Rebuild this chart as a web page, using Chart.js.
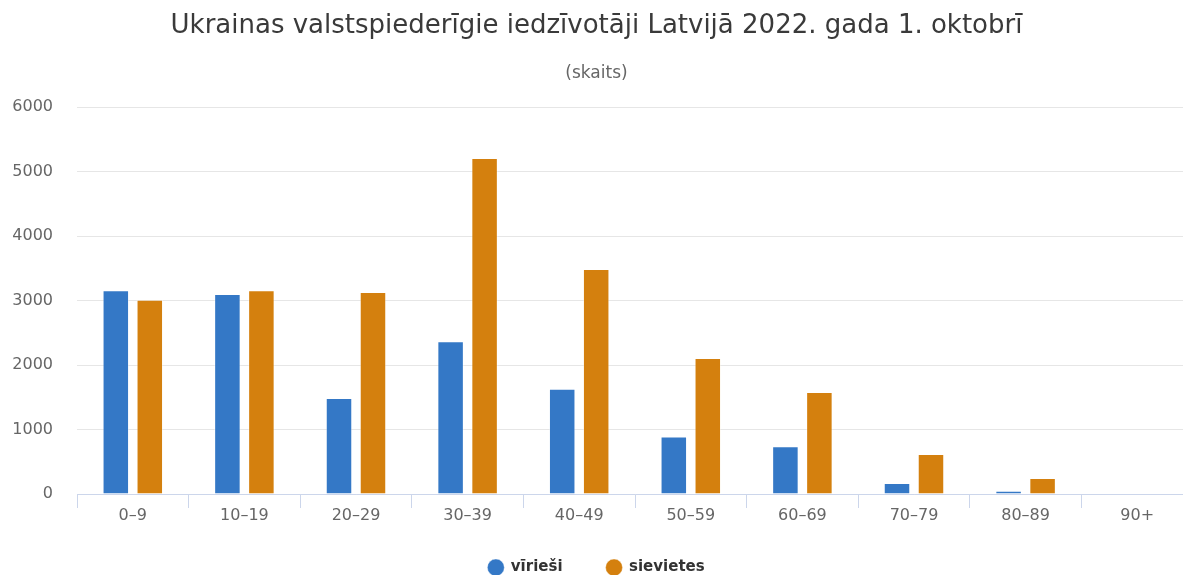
<!DOCTYPE html>
<html lang="lv">
<head>
<meta charset="utf-8">
<title>Ukrainas valstspiederīgie iedzīvotāji Latvijā</title>
<script src="https://cdn.jsdelivr.net/npm/chart.js@4/dist/chart.umd.min.js"></script>
<style>
  html, body { margin: 0; padding: 0; background: #fff; overflow: hidden; }
  #wrap { width: 1183px; height: 575px; overflow: hidden; }
  canvas { display: block; }
</style>
</head>
<body>
<div id="wrap">
  <canvas id="chart" width="1193" height="575"></canvas>
</div>
<script>
// vecuma grupas
const ageGroups = ['0–9', '10–19', '20–29', '30–39', '40–49', '50–59', '60–69', '70–79', '80–89', '90+'];
// skaits
const men = [3160, 3100, 1490, 2370, 1630, 890, 740, 170, 50, 0];
const women = [3010, 3160, 3130, 5210, 3490, 2110, 1580, 620, 250, 0];
const yTicks = [0, 1000, 2000, 3000, 4000, 5000, 6000];

const sans = '"DejaVu Sans", Verdana, sans-serif';
const tickFont = { family: sans, size: 16, lineHeight: 1 };

// legendu paceļ nedaudz augstāk, lai starp ierakstiem paliek plata atstarpe
const legendOffset = {
  id: 'legendOffset',
  afterLayout(chart) {
    chart.legend.top -= 8;
    chart.legend.bottom -= 8;
  }
};

document.addEventListener('DOMContentLoaded', function () {
  const ctx = document.getElementById('chart').getContext('2d');

  new Chart(ctx, {
    type: 'bar',
    data: {
      labels: ageGroups,
      datasets: [{
        label: 'vīrieši',
        data: men,
        backgroundColor: '#3478c6',
        borderColor: 'rgba(255,255,255,0.4)',
        borderWidth: 1
      }, {
        label: 'sievietes',
        data: women,
        backgroundColor: '#d4800e',
        borderColor: 'rgba(255,255,255,0.4)',
        borderWidth: 1
      }]
    },
    plugins: [legendOffset],
    options: {
      responsive: false,
      animation: false,
      categoryPercentage: 0.609,
      barPercentage: 0.78,
      layout: { padding: { top: 0, left: 0, right: 0, bottom: -18 } },
      plugins: {
        title: {
          display: true,
          text: 'Ukrainas valstspiederīgie iedzīvotāji Latvijā 2022. gada 1. oktobrī',
          color: '#3a3a3a',
          font: { family: sans, size: 26, weight: 'normal' },
          padding: { top: 10.9, bottom: 0 }
        },
        subtitle: {
          display: true,
          text: '(skaits)',
          color: '#666666',
          font: { family: sans, size: 17, weight: 'normal' },
          padding: { top: 21.2, bottom: 23.3 }
        },
        legend: {
          position: 'bottom',
          labels: {
            usePointStyle: true,
            pointStyle: 'circle',
            boxWidth: 15,
            boxHeight: 12,
            padding: 44,
            color: '#333333',
            font: { family: sans, size: 15, weight: 'bold' }
          }
        },
        tooltip: { enabled: false }
      },
      scales: {
        x: {
          offset: true,
          afterFit: function (scale) { scale.height = 30; },
          grid: {
            offset: true,
            drawOnChartArea: false,
            drawTicks: true,
            tickLength: 14,
            color: '#ccd6eb'
          },
          border: { display: true, color: '#ccd6eb', width: 1 },
          ticks: { color: '#666666', font: tickFont, padding: 0, maxRotation: 0, autoSkip: false }
        },
        y: {
          min: 0,
          max: 6000,
          afterFit: function (scale) { scale.width = 77; },
          afterBuildTicks: function (scale) {
            scale.ticks = yTicks.map(v => ({ value: v }));
          },
          grid: { color: '#e6e6e6', lineWidth: 1, drawTicks: false },
          border: { display: false },
          ticks: {
            color: '#666666',
            font: tickFont,
            padding: 24,
            callback: function (value) { return String(value); }
          }
        }
      }
    }
  });
});
</script>
</body>
</html>
